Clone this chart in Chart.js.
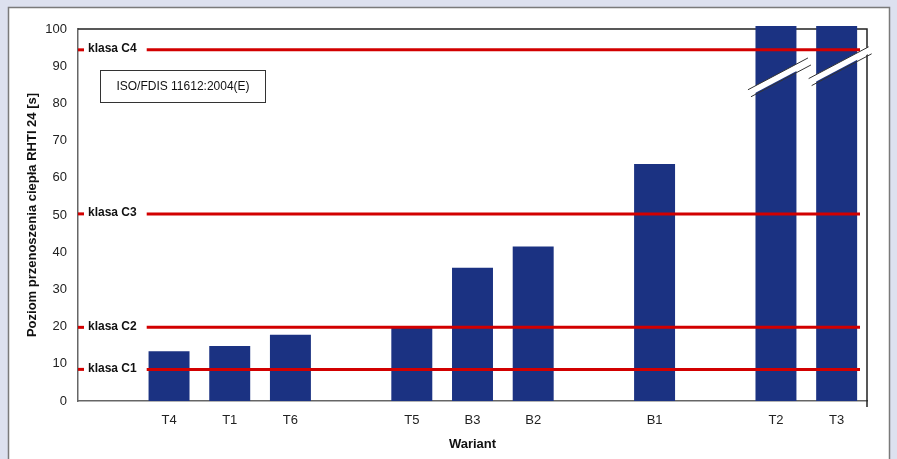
<!DOCTYPE html>
<html>
<head>
<meta charset="utf-8">
<script src="https://cdn.jsdelivr.net/npm/chart.js@4.4.1/dist/chart.umd.min.js"></script>
<style>
  html, body { margin: 0; padding: 0; background: #dde1ef; }
  #wrap { width: 897px; height: 459px; }
</style>
</head>
<body>
<div id="wrap"><canvas id="chart" width="897" height="459"></canvas></div>
<script>
// empty labels are the gaps between the groups
const categories = ['', 'T4', 'T1', 'T6', '', 'T5', 'B3', 'B2', '', 'B1', '', 'T2', 'T3'];
const values = [null, 13.4, 14.8, 17.8, null, 19.8, 35.8, 41.5, null, 63.7, null, 100.8, 100.8];
const yTicks = [0, 10, 20, 30, 40, 50, 60, 70, 80, 90, 100];
const classLabels = ['klasa C1', 'klasa C2', 'klasa C3', 'klasa C4'];
const classValues = [8.5, 19.8, 50.3, 94.4];
const breakBars = ['T2', 'T3'];
const breakValues = [87, 90];
const noteText = 'ISO/FDIS 11612:2004(E)';

const FONT = '"Liberation Sans", Arial, sans-serif';
const RED = '#d20000';
const BLUE = '#1b3282';

const panel = {
  id: 'panel',
  beforeDraw(chart) {
    const ctx = chart.ctx;
    ctx.save();
    ctx.fillStyle = '#dde1ef';
    ctx.fillRect(0, 0, chart.width, chart.height);
    ctx.fillStyle = '#ffffff';
    ctx.fillRect(8, 7, 882, 470);
    ctx.strokeStyle = '#7a7a7a';
    ctx.lineWidth = 1.5;
    ctx.strokeRect(8.5, 7.5, 881, 470);
    ctx.restore();
  },
  beforeDatasetsDraw(chart) {
    const { ctx, chartArea: a } = chart;
    ctx.save();
    ctx.strokeStyle = '#222';
    ctx.lineWidth = 1.5;
    ctx.beginPath();
    ctx.moveTo(a.left, a.top);
    ctx.lineTo(a.right, a.top);
    ctx.lineTo(a.right, a.bottom + 6);
    ctx.stroke();
    ctx.restore();
  },
  afterDatasetsDraw(chart) {
    const { ctx, chartArea: a, scales: { x, y } } = chart;
    ctx.save();

    // class lines
    ctx.font = 'bold 12px ' + FONT;
    ctx.textBaseline = 'middle';
    ctx.strokeStyle = RED;
    ctx.lineWidth = 3;
    classLabels.forEach((lab, i) => {
      const py = y.getPixelForValue(classValues[i]);
      ctx.beginPath();
      ctx.moveTo(a.left, py);
      ctx.lineTo(a.left + 6, py);
      ctx.stroke();
      ctx.fillStyle = '#111';
      ctx.fillText(lab, a.left + 10, py - 1);
      const w = ctx.measureText(lab).width;
      ctx.beginPath();
      ctx.moveTo(a.left + 10 + w + 10, py);
      ctx.lineTo(a.right - 7, py);
      ctx.stroke();
    });

    // axis break marks
    breakBars.forEach((name, i) => {
      const cx = x.getPixelForValue(categories.indexOf(name)) + 2;
      const cy = y.getPixelForValue(breakValues[i]);
      const hw = 30, k = 0.53, h = 7;
      ctx.beginPath();
      ctx.moveTo(cx - hw, cy + hw * k - h / 2);
      ctx.lineTo(cx + hw, cy - hw * k - h / 2);
      ctx.lineTo(cx + hw, cy - hw * k + h / 2);
      ctx.lineTo(cx - hw, cy + hw * k + h / 2);
      ctx.closePath();
      ctx.fillStyle = '#fff';
      ctx.fill();
      ctx.strokeStyle = '#333';
      ctx.lineWidth = 1;
      ctx.beginPath();
      ctx.moveTo(cx - hw, cy + hw * k - h / 2);
      ctx.lineTo(cx + hw, cy - hw * k - h / 2);
      ctx.moveTo(cx - hw + 3, cy + hw * k + h / 2);
      ctx.lineTo(cx + hw + 3, cy - hw * k + h / 2);
      ctx.stroke();
    });

    // note box
    ctx.strokeStyle = '#333';
    ctx.lineWidth = 1;
    ctx.strokeRect(a.left + 22.5, a.top + 41.5, 165, 32);
    ctx.fillStyle = '#111';
    ctx.font = '12px ' + FONT;
    ctx.textAlign = 'center';
    ctx.fillText(noteText, a.left + 22 + 83, a.top + 58);
    ctx.restore();
  }
};

new Chart(document.getElementById('chart'), {
  type: 'bar',
  data: {
    labels: categories,
    datasets: [{
      data: values,
      backgroundColor: BLUE,
      barPercentage: 0.675,
      categoryPercentage: 1,
      clip: false
    }]
  },
  options: {
    responsive: false,
    animation: false,
    devicePixelRatio: 1,
    layout: { padding: { top: 29, right: 30, left: 0, bottom: 0 } },
    plugins: { legend: { display: false }, tooltip: { enabled: false } },
    scales: {
      x: {
        grid: { display: false, drawTicks: false },
        border: { display: true, color: '#666', width: 1.5 },
        ticks: { color: '#222', font: { family: FONT, size: 13 }, padding: 12, maxRotation: 0, autoSkip: false },
        title: { display: true, text: 'Wariant', color: '#111', font: { family: FONT, size: 13, weight: 'bold' }, padding: { top: 0, bottom: 7 } },
        afterFit(s) { s.height = 58; }
      },
      y: {
        min: 0,
        max: 100,
        grid: { display: false, drawTicks: false },
        border: { display: true, color: '#666', width: 1.5 },
        afterBuildTicks(s) { s.ticks = yTicks.map(v => ({ value: v })); },
        ticks: { color: '#222', font: { family: FONT, size: 13 }, padding: 11 },
        title: { display: true, text: 'Poziom przenoszenia ciepła RHTI 24 [s]', color: '#111', font: { family: FONT, size: 13, weight: 'bold' }, padding: { top: 25, bottom: 0 } },
        afterFit(s) { s.width = 78; }
      }
    }
  },
  plugins: [panel]
});
</script>
</body>
</html>
